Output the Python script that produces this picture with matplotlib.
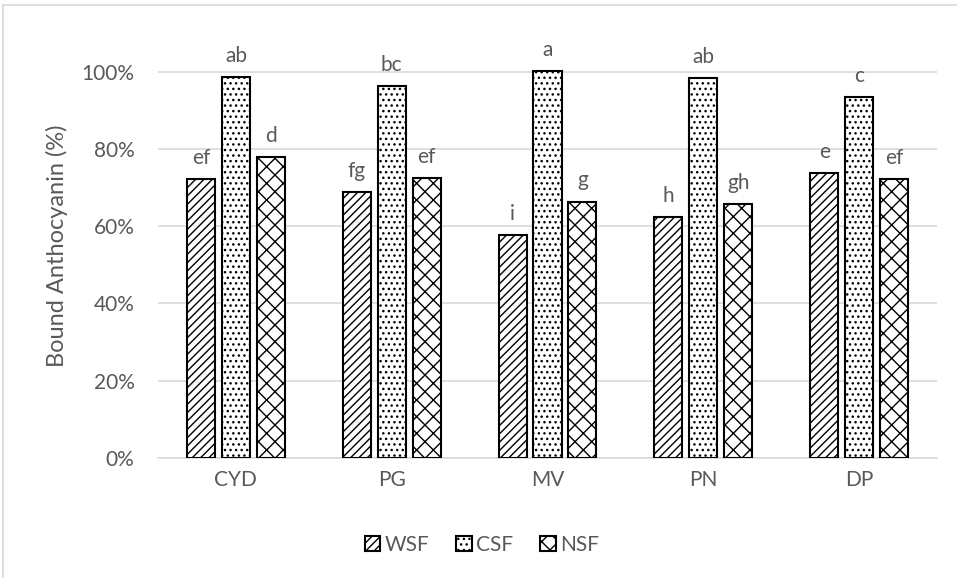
import matplotlib
matplotlib.use("Agg")
import matplotlib.pyplot as plt
import numpy as np
from matplotlib.lines import Line2D
from matplotlib.patches import Patch
from matplotlib.ticker import PercentFormatter

categories = ["CYD", "PG", "MV", "PN", "DP"]
series_names = ["WSF", "CSF", "NSF"]
wsf = [0.722, 0.689, 0.577, 0.623, 0.739]
csf = [0.986, 0.963, 1.003, 0.984, 0.934]
nsf = [0.780, 0.725, 0.664, 0.657, 0.722]
wsf_letters = ["ef", "fg", "i", "h", "e"]
csf_letters = ["ab", "bc", "a", "ab", "c"]
nsf_letters = ["d", "ef", "g", "gh", "ef"]
y_ticks = [0.0, 0.2, 0.4, 0.6, 0.8, 1.0]

text_color = "#595959"
grid_color = "#d9d9d9"
hatches = ["////", "...", "xx"]

plt.rcParams["font.family"] = ["Lato", "DejaVu Sans"]
plt.rcParams["hatch.linewidth"] = 1.0

fig = plt.figure(figsize=(9.57, 5.78), dpi=100)
ax = fig.add_axes([0.1651, 0.2081, 0.814, 0.7341])

x = np.arange(len(categories))
width = 0.18
step = 0.224
for i, (vals, letters) in enumerate(zip([wsf, csf, nsf], [wsf_letters, csf_letters, nsf_letters])):
    pos = x + (i - 1) * step
    bars = ax.bar(pos, vals, width, color="white", edgecolor="black",
                  linewidth=1.5, hatch=hatches[i], zorder=3)
    for bar, letter in zip(bars, letters):
        ax.annotate(letter, (bar.get_x() + bar.get_width() / 2, bar.get_height()),
                    xytext=(0, 8), textcoords="offset points", ha="center", va="bottom",
                    fontsize=15, color=text_color)

ax.set_xlim(-0.5, len(categories) - 0.5)
ax.set_ylim(0, 1.1)
ax.set_yticks(y_ticks)
ax.yaxis.set_major_formatter(PercentFormatter(1.0, decimals=0))
ax.set_xticks(x, categories)
ax.tick_params(length=0, labelsize=15, labelcolor=text_color)
ax.tick_params(axis="x", pad=9)
ax.tick_params(axis="y", pad=17)
ax.grid(axis="y", color=grid_color, linewidth=1.2, zorder=0)
for side in ["top", "right", "left"]:
    ax.spines[side].set_visible(False)
ax.spines["bottom"].set_color(grid_color)
ax.spines["bottom"].set_linewidth(1.2)
ax.set_ylabel("Bound Anthocyanin (%)", fontsize=17, color=text_color, labelpad=10)

handles = [Patch(facecolor="white", edgecolor="black", hatch=h, linewidth=1.5) for h in hatches]
fig.legend(handles, series_names, loc="center", bbox_to_anchor=(482 / 957, 1 - 545 / 578),
           ncol=3, frameon=False, fontsize=15, labelcolor=text_color,
           handlelength=0.75, handleheight=0.75, handletextpad=0.2, columnspacing=1.3)

# thin chart-area border along the top and left edges
fig.add_artist(Line2D([3 / 957, 3 / 957], [0, 1 - 5 / 578], color=grid_color, linewidth=1.2))
fig.add_artist(Line2D([3 / 957, 1], [1 - 5 / 578, 1 - 5 / 578], color=grid_color, linewidth=1.2))

fig.savefig("out.png", dpi=100)
plt.close(fig)
